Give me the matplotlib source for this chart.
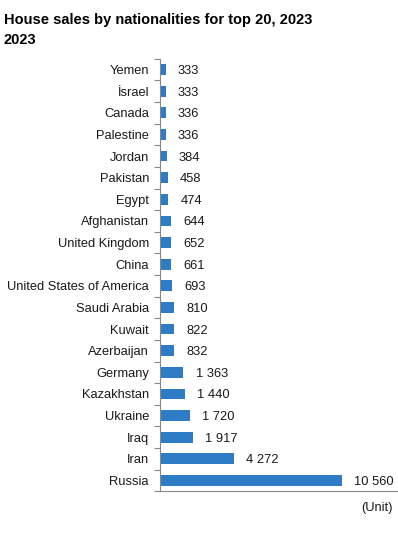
#!/usr/bin/env python3
import matplotlib
matplotlib.use('Agg')
import matplotlib.pyplot as plt

# data, top to bottom as in the chart
countries = ['Yemen', 'İsrael', 'Canada', 'Palestine', 'Jordan', 'Pakistan', 'Egypt',
             'Afghanistan', 'United Kingdom', 'China', 'United States of America',
             'Saudi Arabia', 'Kuwait', 'Azerbaijan', 'Germany', 'Kazakhstan',
             'Ukraine', 'Iraq', 'Iran', 'Russia']
sales = [333, 333, 336, 336, 384, 458, 474, 644, 652, 661, 693, 810, 822, 832,
         1363, 1440, 1720, 1917, 4272, 10560]
value_labels = ['333', '333', '336', '336', '384', '458', '474', '644', '652', '661',
                '693', '810', '822', '832', '1 363', '1 440', '1 720', '1 917',
                '4 272', '10 560']

plt.rcParams['font.family'] = ['Liberation Sans', 'DejaVu Sans']

fig = plt.figure(figsize=(3.98, 5.34), dpi=100)
ax = fig.add_axes([0.402, 0.08, 0.595, 0.81])

ypos = list(range(len(countries)))
ax.barh(ypos, sales, height=0.5, color='#2E7CC5')

for y, v, lab in zip(ypos, sales, value_labels):
    ax.text(v + 700, y, lab, va='center_baseline', ha='left', fontsize=9.3, color='#1a1a1a')

ax.set_ylim(len(countries) - 0.5, -0.5)
ax.set_xlim(0, 13750)
ax.set_yticks(ypos)
ax.set_yticklabels(countries, fontsize=9.3, color='#1a1a1a', va='center_baseline')
ax.tick_params(axis='y', length=0, pad=8)
# minor ticks between categories, like the original
ax.set_yticks([y + 0.5 for y in range(-1, len(countries))], minor=True)
ax.tick_params(axis='y', which='minor', length=4, color='#888888', width=0.8)
ax.set_xticks([])

for s in ['top', 'right']:
    ax.spines[s].set_visible(False)
ax.spines['left'].set_color('#888888')
ax.spines['bottom'].set_color('#888888')
ax.spines['left'].set_linewidth(0.8)
ax.spines['bottom'].set_linewidth(0.8)

fig.text(0.01, 0.975, 'House sales by nationalities for top 20, 2023\n2023',
         ha='left', va='top', fontsize=10.5, fontweight='bold', linespacing=1.5)
fig.text(0.988, 0.048, '(Unit)', ha='right', va='center', fontsize=9.3, color='#1a1a1a')

fig.savefig('out.png', dpi=100)
